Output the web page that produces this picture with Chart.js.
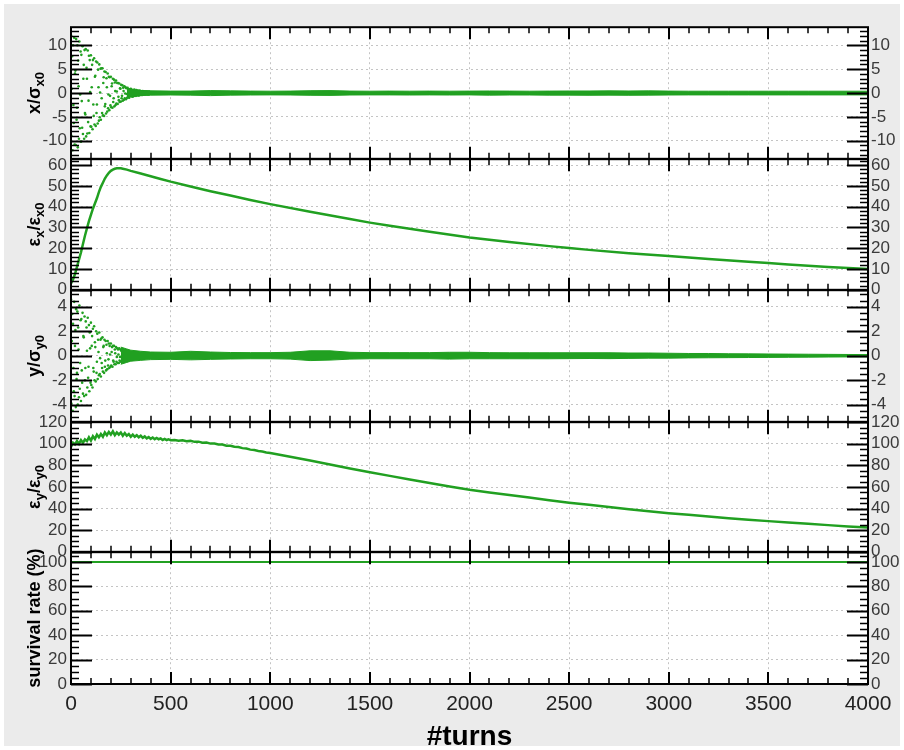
<!DOCTYPE html>
<html>
<head>
<meta charset="utf-8">
<script src="https://cdn.jsdelivr.net/npm/chart.js@4.4.1/dist/chart.umd.min.js"></script>
<style>
  html, body { margin: 0; padding: 0; background: #fff; }
  #frame { position: absolute; left: 4px; top: 4px; width: 896px; height: 742px; background: #ebebeb; }
  #plot { position: absolute; left: 71px; top: 27px; width: 797px; height: 657px; background: #fff; }
  canvas { position: absolute; left: 0; }
</style>
</head>
<body>
<div id="frame"></div>
<div id="plot"></div>
<script>
// turn axis
const xTicks = [0, 500, 1000, 1500, 2000, 2500, 3000, 3500, 4000];

// x/sigma_x0 : turn-by-turn centroid, first 400 turns (every 2nd turn)
const scatterStep = 2;
const xScatter = [
  12.1,-9.0,0.9,7.7,-12.0,10.0,-2.5,-6.3,11.6,-10.8,
  4.1,4.7,-10.9,11.3,-5.6,-3.1,10.0,-11.4,6.8,1.4,
  -9.6,10.8,-7.4,-0.3,8.7,-10.2,8.0,-1.7,-7.3,9.8,
  -8.6,3.0,5.9,-9.6,9.0,-4.2,-4.5,9.2,-9.1,5.3,
  3.0,-8.5,8.9,-6.1,-1.6,7.8,-8.4,6.9,0.2,-7.0,
  7.9,-7.1,1.2,5.9,-7.6,6.9,-2.4,-4.8,7.3,-6.6,
  3.4,3.6,-6.9,6.6,-4.2,-2.4,6.4,-6.4,4.9,1.2,
  -5.8,6.0,-5.1,0.1,5.1,-5.6,5.2,-1.1,-4.2,5.2,
  -4.7,2.1,3.3,-4.8,4.5,-2.8,-2.3,4.4,-4.3,3.1,
  1.2,-3.9,4.1,-3.2,-0.3,3.4,-3.6,3.3,-0.6,-2.6,
  3.4,-3.0,1.4,2.0,-3.1,3.0,-1.9,-1.1,2.8,-2.8,
  2.2,0.4,-2.5,2.6,-2.2,0.3,2.1,-2.3,2.1,-0.8,
  -1.5,2.0,-1.9,1.0,0.9,-1.8,1.7,-1.1,-0.6,1.6,
  -1.6,1.1,0.4,-1.4,1.4,-1.1,-0.1,1.2,-1.3,1.0,
  -0.2,-1.0,1.1,-0.9,0.3,0.8,-1.0,0.8,-0.4,-0.6,
  0.9,0.8,-0.7,0.2,0.6,-0.8,0.6,-0.2,-0.5,0.7,
  -0.6,0.3,0.4,-0.6,0.6,-0.3,-0.3,0.5,-0.5,0.4,
  0.1,-0.5,0.5,-0.3,-0.2,0.4,-0.4,0.3,0.1,-0.4,
  0.4,-0.3,-0.1,0.3,-0.3,0.3,0.0,-0.3,0.3,-0.2,
  -0.1,0.3,-0.3,0.2,0.1,-0.3,0.3,-0.2,-0.1,0.2
];
// residual spread of x after damping (upper / lower edge)
const xBandTurns = [280,300,330,360,400,500,600,700,800,900,1000,1100,1200,1300,1400,1500,1600,1700,1800,1900,2000,2100,2200,2300,2400,2500,2600,2700,2800,2900,3000,3100,3200,3300,3400,3500,3600,3700,3800,3900,4000];
const xBandHi = [1.0,0.8,0.6,0.5,0.45,0.4,0.4,0.5,0.45,0.4,0.38,0.4,0.48,0.5,0.4,0.38,0.4,0.38,0.4,0.38,0.4,0.42,0.4,0.38,0.4,0.42,0.42,0.45,0.42,0.45,0.4,0.38,0.38,0.38,0.38,0.38,0.38,0.38,0.38,0.38,0.38];
const xBandLo = [-1.0,-0.8,-0.6,-0.5,-0.45,-0.42,-0.45,-0.55,-0.45,-0.42,-0.4,-0.42,-0.48,-0.5,-0.42,-0.4,-0.4,-0.42,-0.4,-0.42,-0.4,-0.45,-0.42,-0.42,-0.45,-0.45,-0.48,-0.45,-0.48,-0.45,-0.42,-0.4,-0.4,-0.4,-0.4,-0.4,-0.4,-0.4,-0.4,-0.4,-0.4];
const xTicksY = [-10, -5, 0, 5, 10];

// eps_x / eps_x0
const epsXTurns = [0,10,20,30,40,50,60,70,80,90,100,110,120,130,140,150,160,170,180,190,200,210,220,230,240,250,260,280,300,350,400,450,500,600,700,800,900,1000,1200,1400,1500,1600,1800,2000,2200,2400,2500,2600,2800,3000,3200,3400,3500,3600,3800,4000];
const epsXVals = [3,5,7.5,11,14.5,18,22,26,29.5,33,36,39,41.5,44,47,49.5,51.5,53.5,55,56.3,57.2,57.8,58.2,58.4,58.5,58.4,58.2,57.8,57.2,55.9,54.6,53.3,52,49.7,47.4,45.3,43.2,41.2,37.5,34,32.3,30.8,27.9,25.2,23,21,20.1,19.2,17.6,16.2,14.8,13.5,12.9,12.2,11,10];
const epsXTicks = [0, 10, 20, 30, 40, 50, 60];

// y/sigma_y0 : first 300 turns (every 2nd turn)
const yScatter = [
  4.6,-3.9,1.2,3.4,-4.5,2.6,-1.0,-2.9,4.4,-3.3,
  0.8,2.1,-4.2,3.8,-1.9,-1.4,3.6,-4.0,2.3,0.5,
  -3.4,4.1,-2.7,-0.6,2.9,-3.7,3.0,-1.2,-2.2,3.5,
  -3.1,1.6,1.5,-3.3,3.2,-2.0,-1.0,2.8,-3.2,2.3,
  0.4,-2.6,3.1,-1.8,-0.9,2.5,-2.9,1.9,0.6,-2.2,
  2.7,-2.4,0.8,1.6,-2.6,2.2,-1.0,-1.3,2.4,-2.0,
  1.1,0.7,-2.1,2.0,-1.4,-0.5,1.8,-1.9,1.3,0.3,
  -1.6,1.9,-1.5,-0.2,1.3,-1.7,1.4,-0.6,-1.0,1.5,
  -1.3,0.7,0.8,-1.4,1.3,-0.9,-0.4,1.2,-1.2,0.9,
  0.2,-1.1,1.2,-0.8,-0.3,1.0,-1.0,0.8,0.1,-0.9,
  1.0,-0.8,0.3,0.7,-0.9,0.8,-0.4,-0.5,0.8,-0.7,
  0.5,0.2,-0.7,0.7,-0.5,-0.1,0.6,-0.6,0.5,0.1,
  -0.6,0.6,-0.4,-0.1,0.5,-0.5,0.4,-0.1,-0.4,0.5,
  -0.4,0.2,0.3,-0.4,0.4,-0.3,-0.1,0.4,-0.4,0.3,
  0.1,-0.3,0.4,-0.3,-0.1,0.3,-0.3,0.3,0.0,-0.3,
  0.3
];
const yBandTurns = [250,280,300,350,400,500,600,700,800,900,1000,1100,1200,1300,1400,1500,1600,1700,1800,1900,2000,2100,2200,2300,2400,2500,2600,2700,2800,2900,3000,3100,3200,3300,3400,3500,3600,3700,3800,3900,4000];
const yBandHi = [0.7,0.55,0.45,0.36,0.3,0.28,0.36,0.3,0.26,0.25,0.25,0.28,0.4,0.4,0.28,0.25,0.25,0.25,0.25,0.28,0.28,0.25,0.24,0.24,0.24,0.24,0.24,0.24,0.22,0.22,0.2,0.18,0.18,0.16,0.15,0.14,0.13,0.12,0.11,0.1,0.09];
const yBandLo = [-0.7,-0.55,-0.45,-0.38,-0.32,-0.3,-0.34,-0.3,-0.27,-0.25,-0.25,-0.28,-0.4,-0.36,-0.28,-0.25,-0.25,-0.25,-0.25,-0.28,-0.25,-0.25,-0.25,-0.25,-0.25,-0.24,-0.23,-0.24,-0.22,-0.2,-0.2,-0.18,-0.17,-0.16,-0.15,-0.14,-0.13,-0.12,-0.11,-0.1,-0.09];
const yTicksY = [-4, -2, 0, 2, 4];

// eps_y / eps_y0
const epsYTurns = [
  0,10,20,30,40,50,60,70,80,90,
  100,110,120,130,140,150,160,170,180,190,
  200,210,220,230,240,250,260,270,280,290,
  300,310,320,330,340,350,360,370,380,390,
  400,410,420,430,440,450,460,470,480,490,
  500,520,540,560,580,600,620,640,660,680,
  700,720,740,760,780,800,820,840,860,880,
  900,920,940,960,980,1000,1100,1200,1300,1400,
  1500,1600,1700,1800,1900,2000,2100,2200,2300,2400,
  2500,2600,2700,2800,2900,3000,3100,3200,3300,3400,
  3500,3600,3700,3800,3900,4000
];
const epsYVals = [
  97,101,99.5,102.5,100,103.5,101,104,102.5,106,
  103,107,104.5,108.5,106,109,106.5,110.5,108,111,
  108.5,111.5,108,110.5,108.5,110.5,107.5,110,107.5,109,
  106.5,108.5,106.5,108,106,107.5,105.5,106.8,105,106.2,
  104.6,105.8,104.3,105.4,104.2,105,103.6,104.6,103.5,104.2,
  103.2,103.5,102.8,103.2,102.3,102.7,101.8,102,101,101.2,
  100.2,100.3,99.3,99.3,98.3,98.2,97.2,97,96,95.6,
  94.6,94.2,93.3,92.8,92,91.4,88,84.5,80.8,77.2,
  73.7,70.3,67,63.8,60.5,57.5,55,52.5,50.2,47.8,
  45.5,43.5,41.5,39.5,37.5,35.8,34.2,32.6,31.1,29.7,
  28.4,27.1,25.9,24.7,23.5,22.4
];
const epsYTicks = [0, 20, 40, 60, 80, 100, 120];

// survival rate (%)
const survTurns = [0, 1000, 2000, 3000, 4000];
const survVals = [100, 100, 100, 100, 100];
const survTicks = [0, 20, 40, 60, 80, 100];

const GREEN = '#21a021';
const FONT = '"Liberation Sans", Arial, sans-serif';
Chart.defaults.font.family = FONT;

const panelTops = [27, 159, 290, 422, 552];
const panelBottoms = [159, 290, 422, 552, 684];
const PAD = 14;

const pts = (xs, ys) => xs.map((x, i) => ({ x: x, y: ys[i] }));
const stepPts = (ys) => ys.map((y, i) => ({ x: i * scatterStep, y: y }));

function dots(data) {
  return { data, pointRadius: 1.3, pointBorderWidth: 0, pointBackgroundColor: GREEN, showLine: false };
}
function curve(data, w) {
  return { data, showLine: true, borderColor: GREEN, borderWidth: w, pointRadius: 0, tension: 0, fill: false };
}
function band(hi, lo) {
  return [
    { data: hi, showLine: true, borderColor: GREEN, borderWidth: 1, pointRadius: 0, fill: false },
    { data: lo, showLine: true, borderColor: GREEN, borderWidth: 1, pointRadius: 0, fill: '-1', backgroundColor: GREEN }
  ];
}

// frame, inward tick marks, rotated axis titles
const panelDecor = {
  id: 'panelDecor',
  afterDraw(chart, args, o) {
    const { ctx, chartArea: a } = chart;
    const xs = chart.scales.x, ys = chart.scales.y;
    ctx.save();
    ctx.strokeStyle = '#000';

    const marks = (major) => {
      ctx.beginPath();
      for (let t = xs.min; t <= xs.max; t += 100) {
        if ((t % 500 === 0) !== major) continue;
        const px = Math.round(xs.getPixelForValue(t));
        const len = major ? 12 : 6;
        ctx.moveTo(px, a.top); ctx.lineTo(px, a.top + len);
        ctx.moveTo(px, a.bottom); ctx.lineTo(px, a.bottom - len);
      }
      const n0 = Math.ceil(ys.min / o.minor - 1e-6), n1 = Math.floor(ys.max / o.minor + 1e-6);
      for (let k = n0; k <= n1; k++) {
        const v = k * o.minor;
        const r = v / o.major;
        const isMajor = Math.abs(r - Math.round(r)) < 1e-6;
        if (isMajor !== major) continue;
        const len = major ? 21 : 8;
        const py = Math.round(ys.getPixelForValue(v)) + 0.5;
        ctx.moveTo(a.left, py); ctx.lineTo(a.left + len, py);
        ctx.moveTo(a.right, py); ctx.lineTo(a.right - len, py);
      }
      ctx.stroke();
    };
    ctx.lineWidth = 1.5; marks(false);
    ctx.lineWidth = 2; marks(true);
    ctx.strokeRect(a.left, a.top, a.right - a.left, a.bottom - a.top);

    // y title, text reads bottom-to-top, with subscripts
    const mainFont = 'bold 18px ' + FONT, subFont = 'bold 13px ' + FONT;
    let w = 0;
    o.title.forEach(p => { ctx.font = p[1] ? subFont : mainFont; w += ctx.measureText(p[0]).width; });
    ctx.fillStyle = '#000';
    ctx.textAlign = 'left';
    ctx.textBaseline = 'alphabetic';
    ctx.save();
    ctx.translate(40, (a.top + a.bottom) / 2);
    ctx.rotate(-Math.PI / 2);
    let u = -w / 2;
    o.title.forEach(p => {
      ctx.font = p[1] ? subFont : mainFont;
      ctx.fillText(p[0], u, p[1] ? 4 : 0);
      u += ctx.measureText(p[0]).width;
    });
    ctx.restore();

    if (o.xTitle) {
      ctx.font = 'bold 28px ' + FONT;
      ctx.textAlign = 'center';
      ctx.fillText(o.xTitle, (a.left + a.right) / 2, a.bottom + 61);
    }
    ctx.restore();
  }
};

function makePanel(idx, p) {
  const top = panelTops[idx], bottom = panelBottoms[idx];
  const last = idx === panelTops.length - 1;
  const cTop = top - PAD;
  const cH = last ? 750 - cTop : (bottom - top) + 2 * PAD;
  const canvas = document.createElement('canvas');
  canvas.width = 904;
  canvas.height = cH;
  canvas.style.top = cTop + 'px';
  document.body.appendChild(canvas);

  const setTicks = (arr) => (s) => { s.ticks = arr.map(v => ({ value: v })); };
  const gridStyle = { display: true, color: '#c4c4c4', lineWidth: 1, drawTicks: false };
  const dotted = { display: false, dash: [2, 3] };

  new Chart(canvas, {
    type: 'scatter',
    data: { datasets: p.datasets },
    options: {
      responsive: false,
      animation: false,
      devicePixelRatio: 1,
      layout: { padding: { top: PAD, left: 0, right: 0, bottom: 0 } },
      plugins: {
        legend: { display: false },
        tooltip: { enabled: false },
        panelDecor: { major: p.major, minor: p.minor, title: p.title, xTitle: last ? '#turns' : null }
      },
      scales: {
        x: {
          type: 'linear', min: 0, max: 4000,
          afterBuildTicks: setTicks(xTicks),
          afterFit: (s) => { s.height = cH - PAD - (bottom - top); },
          grid: gridStyle,
          border: dotted,
          ticks: { display: last, font: { size: 21 }, color: '#222', padding: 8, maxRotation: 0, autoSkip: false, callback: (v) => String(v) }
        },
        y: {
          type: 'linear', position: 'left', min: p.min, max: p.max,
          afterBuildTicks: setTicks(p.ticks),
          afterFit: (s) => { s.width = 71; },
          grid: gridStyle,
          border: dotted,
          ticks: { font: { size: 17 }, color: '#3a3a3a', padding: 4, autoSkip: false, callback: (v) => String(v) }
        },
        yr: {
          type: 'linear', position: 'right', min: p.min, max: p.max,
          afterBuildTicks: setTicks(p.ticks),
          afterFit: (s) => { s.width = 36; },
          grid: { display: false, drawTicks: false },
          border: { display: false },
          ticks: { font: { size: 17 }, color: '#3a3a3a', padding: 3, autoSkip: false, callback: (v) => String(v) }
        }
      }
    },
    plugins: [panelDecor]
  });
}

makePanel(0, {
  min: -13.8, max: 13.8, ticks: xTicksY, major: 5, minor: 1,
  title: [['x/σ', 0], ['x0', 1]],
  datasets: [...band(pts(xBandTurns, xBandHi), pts(xBandTurns, xBandLo)), dots(stepPts(xScatter))]
});
makePanel(1, {
  min: 0, max: 62.8, ticks: epsXTicks, major: 10, minor: 2,
  title: [['ε', 0], ['x', 1], ['/ε', 0], ['x0', 1]],
  datasets: [curve(pts(epsXTurns, epsXVals), 2.5)]
});
makePanel(2, {
  min: -5.4, max: 5.35, ticks: yTicksY, major: 2, minor: 0.5,
  title: [['y/σ', 0], ['y0', 1]],
  datasets: [...band(pts(yBandTurns, yBandHi), pts(yBandTurns, yBandLo)), dots(stepPts(yScatter))]
});
makePanel(3, {
  min: 0, max: 120, ticks: epsYTicks, major: 20, minor: 5,
  title: [['ε', 0], ['y', 1], ['/ε', 0], ['y0', 1]],
  datasets: [curve(pts(epsYTurns, epsYVals), 2.5)]
});
makePanel(4, {
  min: 0, max: 108, ticks: survTicks, major: 20, minor: 5,
  title: [['survival rate (%)', 0]],
  datasets: [curve(pts(survTurns, survVals), 2)]
});
</script>
</body>
</html>
